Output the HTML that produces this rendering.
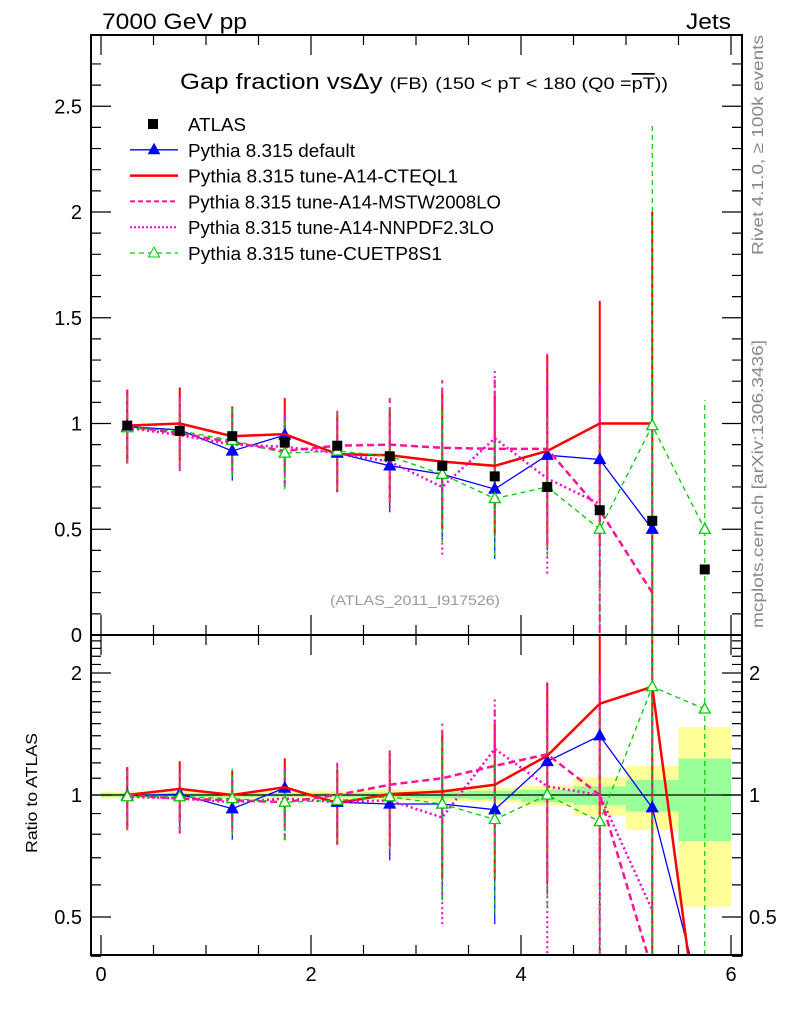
<!DOCTYPE html>
<html><head><meta charset="utf-8">
<style>
html,body{margin:0;padding:0;background:#fff;overflow:hidden;width:786px;height:1024px;}
svg{display:block;font-family:"Liberation Sans",sans-serif;}
</style></head>
<body>
<svg id="chart" width="786" height="1024" viewBox="0 0 786 1024" xmlns="http://www.w3.org/2000/svg">
<text x="102" y="29" font-size="22" textLength="145" lengthAdjust="spacingAndGlyphs">7000 GeV pp</text>
<text x="686" y="29" font-size="22" textLength="45" lengthAdjust="spacingAndGlyphs">Jets</text>
<text x="180" y="89" font-size="22" textLength="488" lengthAdjust="spacingAndGlyphs">Gap fraction vsΔy <tspan font-size="17">(FB)</tspan> <tspan font-size="17">(150 &lt; pT &lt; 180 (Q0 =</tspan><tspan font-size="17" text-decoration="overline">pT</tspan><tspan font-size="17">))</tspan></text>
<text transform="translate(763,255) rotate(-90)" font-size="16" fill="#888" textLength="220" lengthAdjust="spacingAndGlyphs">Rivet 4.1.0, ≥ 100k events</text>
<text transform="translate(763,628) rotate(-90)" font-size="16" fill="#888" textLength="288" lengthAdjust="spacingAndGlyphs">mcplots.cern.ch [arXiv:1306.3436]</text>
<text x="330" y="605" font-size="14" fill="#999" textLength="170" lengthAdjust="spacingAndGlyphs">(ATLAS_2011_I917526)</text>
<text transform="translate(37,853) rotate(-90)" font-size="16" textLength="120" lengthAdjust="spacingAndGlyphs">Ratio to ATLAS</text>
<g id="g"></g>
</svg>
<script>
const xCenters=[0.25,0.75,1.25,1.75,2.25,2.75,3.25,3.75,4.25,4.75,5.25,5.75];
const dataVals=[0.99,0.965,0.94,0.91,0.895,0.845,0.80,0.75,0.70,0.59,0.54,0.31];
const bandTotal=[0.02,0.02,0.02,0.02,0.025,0.03,0.035,0.04,0.055,0.105,0.18,0.47];
const bandStatUp=[0.01,0.01,0.01,0.01,0.012,0.015,0.02,0.025,0.03,0.05,0.09,0.23];
const bandTotalDn=[0.02,0.02,0.02,0.02,0.025,0.03,0.035,0.04,0.06,0.11,0.18,0.47];
const bandStatDn=[0.01,0.01,0.01,0.01,0.012,0.015,0.02,0.025,0.04,0.055,0.09,0.23];
const blueVals=[0.985,0.97,0.87,0.945,0.86,0.80,0.76,0.69,0.85,0.83,0.50,null];
const redVals=[0.99,1.0,0.94,0.95,0.855,0.85,0.82,0.80,0.87,1.0,1.0,null];
const mstwVals=[0.985,0.955,0.91,0.87,0.895,0.90,0.885,0.88,0.88,0.59,0.20,null];
const nnpdfVals=[0.98,0.945,0.90,0.89,0.86,0.82,0.70,0.93,0.74,0.62,null,null];
const greenVals=[0.98,0.965,0.92,0.86,0.87,0.845,0.76,0.645,0.70,0.50,0.99,0.50];
const mcErr=[0.17,0.17,0.14,0.17,0.18,0.22,0.32,0.33,0.45,0.58,1.0,0.61];
const greenErr=[0.17,0.17,0.17,0.17,0.18,0.22,0.32,0.27,0.33,0.45,1.42,0.61];
const blueRatio=[0.995,1.005,0.925,1.04,0.96,0.95,0.95,0.92,1.21,1.40,0.93,0.29];
const redRatio=[1.0,1.035,1.0,1.045,0.955,1.005,1.02,1.06,1.25,1.68,1.85,0.2];
const mstwRatio=[1.0,0.98,0.97,0.96,1.0,1.06,1.10,1.18,1.26,1.0,0.37,null];
const nnpdfRatio=[0.99,0.98,0.96,0.98,0.96,0.97,0.88,1.30,1.05,1.0,0.52,null];
const greenRatio=[0.99,0.99,0.98,0.96,0.97,0.99,0.95,0.87,1.0,0.86,1.85,1.63];
const mainTicks=[0,0.5,1,1.5,2,2.5];
const mainTickLabels=["0","0.5","1","1.5","2","2.5"];
const ratioTicks=[0.5,1,2];
const ratioTickLabels=["0.5","1","2"];
const xTicks=[0,2,4,6];
const xTickLabels=["0","2","4","6"];

const L=91,R=742,T=35,M=635,B=955;
const X=v=>101+105*v;
const Y=v=>635-211.5*v;
const RY=r=>795-122*Math.log2(r);
const cl=(v,a,b)=>Math.max(a,Math.min(b,v));
const NS="http://www.w3.org/2000/svg";
const g=document.getElementById('g');
function mk(tag,attrs,parent){const e=document.createElementNS(NS,tag);for(const k in attrs)e.setAttribute(k,attrs[k]);(parent||g).appendChild(e);return e;}
function clipPath(pts,lo,hi){let d='';let pen=false;
  for(let i=0;i<pts.length-1;i++){
    if(pts[i]==null||pts[i+1]==null){pen=false;continue;}
    const x1=pts[i][0],y1=pts[i][1],x2=pts[i+1][0],y2=pts[i+1][1];
    let t0=0,t1=1;const dy=y2-y1;
    if(dy!==0){const ta=(lo-y1)/dy,tb=(hi-y1)/dy;t0=Math.max(t0,Math.min(ta,tb));t1=Math.min(t1,Math.max(ta,tb));}
    else if(y1<lo||y1>hi){pen=false;continue;}
    if(t0>t1){pen=false;continue;}
    const ax=x1+(x2-x1)*t0,ay=y1+dy*t0,bx=x1+(x2-x1)*t1,by=y1+dy*t1;
    if(!pen||t0>0)d+=`M${ax},${ay}`;d+=`L${bx},${by}`;pen=(t1===1);}
  return d;}

const defs=mk('defs',{});
const c1=mk('clipPath',{id:'cm'},defs);mk('rect',{x:L,y:T,width:R-L,height:M-T},c1);
const c2=mk('clipPath',{id:'cr'},defs);mk('rect',{x:L,y:M,width:R-L,height:B-M},c2);
const gm=mk('g',{'clip-path':'url(#cm)'});


const gr=mk('g',{'clip-path':'url(#cr)'});



xCenters.forEach((x,i)=>{
  let e=mk('rect',{x:X(x-0.25),y:RY(1+bandTotal[i]),width:X(x+0.25)-X(x-0.25),height:RY(1-bandTotalDn[i])-RY(1+bandTotal[i]),fill:'#ffff99'},gr);
  
  
  e=mk('rect',{x:X(x-0.25),y:RY(1+bandStatUp[i]),width:X(x+0.25)-X(x-0.25),height:RY(1-bandStatDn[i])-RY(1+bandStatUp[i]),fill:'#99ff99'},gr);
  
  
});
let ref=mk('line',{x1:L,x2:R,y1:RY(1),y2:RY(1),stroke:'#000','stroke-width':1.2},gr);



const series=[
 {name:'pythia-default',vals:blueVals,rat:blueRatio,err:mcErr,col:'#0000ff',w:1.3,dash:'',mk:'tri'},
 {name:'pythia-a14-cteql1',vals:redVals,rat:redRatio,err:mcErr,col:'#ff0000',w:2.5,dash:'',mk:''},
 {name:'pythia-a14-mstw2008lo',vals:mstwVals,rat:mstwRatio,err:mcErr,col:'#ff1493',w:2.5,dash:'7,4',mk:''},
 {name:'pythia-a14-nnpdf23lo',vals:nnpdfVals,rat:nnpdfRatio,err:mcErr,col:'#ff00cc',w:2.5,dash:'2,3',mk:''},
 {name:'pythia-cuetp8s1',vals:greenVals,rat:greenRatio,err:greenErr,col:'#00cc00',w:1.3,dash:'5,4',mk:'otri'}
];
function tri(par,x,y,col,open,nm){const e=mk('path',{d:`M${x},${y-6}L${x+5.5},${y+4}L${x-5.5},${y+4}Z`,fill:open?'#fff':col,stroke:col,'stroke-width':1.3},par);
  
  }
series.forEach(s=>{
  s.vals.forEach((v,i)=>{if(v==null)return;const x=X(xCenters[i]);
    const e=mk('line',{x1:x,x2:x,y1:cl(Y(v-s.err[i]),T,M),y2:cl(Y(v+s.err[i]),T,M),stroke:s.col,'stroke-width':s.w>2?2:1.2,'stroke-dasharray':s.dash},gm);
    
    
    const r=s.rat[i];if(r!=null){const re=s.err[i]/dataVals[i];
      const e2=mk('line',{x1:x,x2:x,y1:cl(RY(Math.max(r-re,0.05)),M,B),y2:cl(RY(r+re),M,B),stroke:s.col,'stroke-width':s.w>2?2:1.2,'stroke-dasharray':s.dash},gr);
      
      }
  });
});
series.forEach(s=>{
  let d='';s.vals.forEach((v,i)=>{if(v!=null)d+=(d?'L':'M')+X(xCenters[i])+','+Y(v);});
  let p=mk('path',{d,fill:'none',stroke:s.col,'stroke-width':s.w,'stroke-dasharray':s.dash},gm);
  
  
  const pts=s.rat.map((v,i)=>v==null?null:[X(xCenters[i]),RY(v)]);
  p=mk('path',{d:clipPath(pts,M,B),fill:'none',stroke:s.col,'stroke-width':s.w,'stroke-dasharray':s.dash},gr);
  
  
  if(s.mk){s.vals.forEach((v,i)=>{if(v!=null)tri(gm,X(xCenters[i]),Y(v),s.col,s.mk==='otri',s.name+'-marker');});
    s.rat.forEach((v,i)=>{if(v!=null&&RY(v)<B&&RY(v)>M)tri(gr,X(xCenters[i]),RY(v),s.col,s.mk==='otri',s.name+'-ratio-marker');});}
});
dataVals.forEach((v,i)=>{const e=mk('rect',{x:X(xCenters[i])-5,y:Y(v)-5,width:10,height:10,fill:'#000'},gm);
  
  });

let f=mk('rect',{x:L,y:T,width:R-L,height:M-T,fill:'none',stroke:'#000','stroke-width':2});


f=mk('rect',{x:L,y:M,width:R-L,height:B-M,fill:'none',stroke:'#000','stroke-width':2});



for(let k=0;k<=27;k++){const v=k/10,y=Y(v),len=(k%5===0)?20:10;
  let t=mk('path',{d:`M${L},${y}h${len}M${R},${y}h${-len}`,stroke:'#000','stroke-width':1.2});
  
  }
mainTicks.forEach((v,i)=>{const t=mk('text',{x:82,y:Y(v)+7,'font-size':20,'text-anchor':'end'});t.textContent=mainTickLabels[i];
  
  });
[0.4,0.5,0.6,0.7,0.8,0.9,1,1.1,1.2,1.3,1.4,1.5,1.6,1.7,1.8,1.9,2,2.1,2.2,2.3,2.4].forEach(v=>{const y=RY(v),len=(v===0.5||v===1||v===2)?20:10;
  const t=mk('path',{d:`M${L},${y}h${len}M${R},${y}h${-len}`,stroke:'#000','stroke-width':1.2});
  
  });
ratioTicks.forEach((v,i)=>{let t=mk('text',{x:82,y:RY(v)+7,'font-size':20,'text-anchor':'end'});t.textContent=ratioTickLabels[i];
  
  
  t=mk('text',{x:749,y:RY(v)+7,'font-size':20});t.textContent=ratioTickLabels[i];
  
  });
for(let k=0;k<=12;k++){const x=X(k/2),len=(k%4===0)?20:10;
  const t=mk('path',{d:`M${x},${B}v${-len}M${x},${M}v${-len}M${x},${M}v${len}M${x},${T}v${len}`,stroke:'#000','stroke-width':1.2});
  
  }
xTicks.forEach((v,i)=>{const t=mk('text',{x:X(v),y:981,'font-size':20,'text-anchor':'middle'});t.textContent=xTickLabels[i];
  
  });

const leg=[
 {t:'ATLAS',col:'#000',dash:'',w:0,m:'sq',len:58},
 {t:'Pythia 8.315 default',col:'#0000ff',dash:'',w:1.3,m:'tri',len:167},
 {t:'Pythia 8.315 tune-A14-CTEQL1',col:'#ff0000',dash:'',w:2.5,m:'',len:270},
 {t:'Pythia 8.315 tune-A14-MSTW2008LO',col:'#ff1493',dash:'5,3',w:2,m:'',len:313},
 {t:'Pythia 8.315 tune-A14-NNPDF2.3LO',col:'#ff00cc',dash:'2,2',w:2,m:'',len:306},
 {t:'Pythia 8.315 tune-CUETP8S1',col:'#00cc00',dash:'5,4',w:1.3,m:'otri',len:254}];
leg.forEach((l,i)=>{const y=124+i*25.8;
  const gg=mk('g',{});
  
  
  if(l.w)mk('line',{x1:130,x2:178,y1:y,y2:y,stroke:l.col,'stroke-width':l.w,'stroke-dasharray':l.dash},gg);
  if(l.m==='sq')mk('rect',{x:148,y:y-5,width:10,height:10,fill:'#000'},gg);
  if(l.m==='tri'||l.m==='otri')mk('path',{d:`M154,${y-6}L159.5,${y+4}L148.5,${y+4}Z`,fill:l.m==='otri'?'#fff':l.col,stroke:l.col},gg);
  const t=mk('text',{x:188,y:y+7,'font-size':18,textLength:l.len,lengthAdjust:'spacingAndGlyphs'},gg);t.textContent=l.t;});
</script>
</body></html>
